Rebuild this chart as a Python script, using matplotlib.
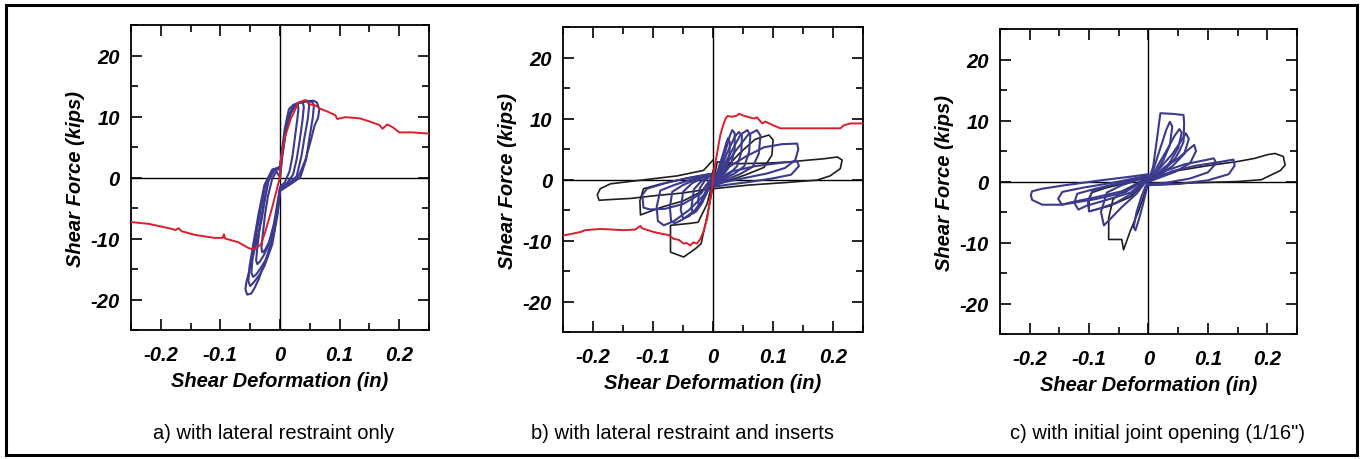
import matplotlib.pyplot as plt
from matplotlib.patches import Rectangle
from matplotlib.ticker import MultipleLocator

plt.rcParams['font.family'] = ['Liberation Sans', 'DejaVu Sans']

# ---- panel a : lateral restraint only ----
a_red_pos_x = [0, 0.001, 0.008, 0.018, 0.031, 0.0425, 0.050, 0.060, 0.067, 0.080, 0.093, 0.096,
               0.110, 0.134, 0.150, 0.167, 0.172, 0.180, 0.190, 0.200, 0.222, 0.250]
a_red_pos_y = [0, 2.5, 6.5, 9.6, 12.3, 12.7, 12.0, 11.8, 11.3, 10.8, 10.2, 9.6,
               9.9, 9.7, 9.2, 8.6, 8.0, 8.7, 8.2, 7.4, 7.4, 7.2]
a_red_neg_x = [0, -0.002, -0.008, -0.015, -0.025, -0.032, -0.040, -0.046, -0.054, -0.070, -0.092,
               -0.094, -0.096, -0.110, -0.143, -0.165, -0.170, -0.175, -0.187, -0.220, -0.250]
a_red_neg_y = [0, -0.7, -3.0, -5.6, -9.0, -11.0, -11.5, -11.8, -11.5, -10.6, -10.0,
               -9.3, -9.9, -9.9, -9.4, -8.8, -8.3, -8.6, -8.3, -7.6, -7.3]

a_loops_x = [
    [0, 0.004, 0.010, 0.018, 0.024, 0.028, 0.030, 0.031, 0.029, 0.025, 0.021, 0.016, 0.008, 0,
     -0.004, -0.010, -0.018, -0.024, -0.028, -0.030, -0.031, -0.029, -0.025, -0.020, -0.013, -0.006, 0],
    [0, 0.004, 0.011, 0.020, 0.027, 0.033, 0.038, 0.040, 0.038, 0.033, 0.028, 0.022, 0.012, 0,
     -0.004, -0.011, -0.021, -0.028, -0.034, -0.038, -0.040, -0.038, -0.033, -0.027, -0.019, -0.009, 0],
    [0, 0.004, 0.012, 0.024, 0.031, 0.038, 0.046, 0.049, 0.047, 0.041, 0.036, 0.028, 0.014, 0,
     -0.004, -0.012, -0.024, -0.032, -0.040, -0.045, -0.048, -0.046, -0.040, -0.032, -0.024, -0.012, 0],
    [0, 0.004, 0.013, 0.026, 0.033, 0.044, 0.054, 0.057, 0.055, 0.049, 0.044, 0.034, 0.016, 0,
     -0.004, -0.013, -0.026, -0.034, -0.044, -0.050, -0.053, -0.051, -0.044, -0.036, -0.026, -0.013, 0],
    [0, 0.003, 0.008, 0.015, 0.022, 0.030, 0.045, 0.056, 0.062, 0.066, 0.064, 0.058, 0.051, 0.043,
     0.037, 0.029, 0.015, 0,
     -0.003, -0.010, -0.020, -0.028, -0.035, -0.042, -0.048, -0.055, -0.058, -0.056, -0.048, -0.038,
     -0.031, -0.024, -0.020, -0.014, -0.005, 0],
]
a_loops_y = [
    [0, 3.5, 7.5, 10.5, 11.5, 11.9, 11.9, 11.2, 9.5, 6.5, 3.5, 1.0, -0.8, -1.6,
     -4.0, -7.5, -10.5, -11.7, -12.2, -12.2, -11.5, -9.5, -6.0, -3.0, -0.2, 1.0, 0],
    [0, 4.0, 8.5, 11.3, 12.0, 12.3, 12.4, 11.6, 9.5, 6.0, 3.0, 0.5, -0.9, -1.8,
     -5.0, -8.5, -11.5, -12.9, -13.8, -14.2, -13.6, -11.5, -7.5, -4.0, -0.5, 1.2, 1.4],
    [1.4, 4.5, 9.5, 11.8, 12.2, 12.4, 12.6, 11.9, 9.8, 6.5, 3.5, 0.2, -1.0, -2.0,
     -5.5, -10.0, -13.5, -14.8, -15.9, -16.3, -15.6, -13.3, -9.5, -5.0, -1.0, 1.3, 1.6],
    [1.6, 4.5, 10.0, 12.0, 12.3, 12.5, 12.4, 11.8, 9.8, 6.2, 3.0, 0.0, -1.2, -2.2,
     -6.0, -11.0, -14.5, -15.9, -17.2, -17.8, -17.0, -14.5, -10.5, -6.0, -1.2, 1.3, 1.7],
    [1.7, 4.0, 8.0, 11.2, 11.9, 12.2, 12.5, 12.6, 12.3, 11.2, 9.8, 8.5, 5.8, 3.0,
     1.5, -0.2, -1.0, -2.2,
     -5.0, -9.0, -12.6, -14.6, -16.5, -18.0, -19.0, -19.2, -18.3, -17.0, -14.0, -10.0,
     -7.0, -3.0, -0.5, 0.8, 1.5, 1.8],
]

# ---- panel b : lateral restraint and inserts ----
b_red_pos_x = [0, 0.002, 0.007, 0.012, 0.018, 0.021, 0.024, 0.032, 0.040, 0.043, 0.050, 0.057,
               0.068, 0.073, 0.082, 0.087, 0.100, 0.112, 0.140, 0.184, 0.212, 0.218, 0.229, 0.250]
b_red_pos_y = [0, 1.8, 4.5, 7.3, 9.3, 10.0, 10.4, 10.3, 10.5, 10.8, 10.5, 10.3,
               10.0, 10.2, 9.2, 9.5, 8.9, 8.4, 8.4, 8.4, 8.4, 8.9, 9.2, 9.2]
b_red_neg_x = [0, -0.002, -0.006, -0.010, -0.016, -0.021, -0.027, -0.033, -0.038, -0.044, -0.049,
               -0.057, -0.066, -0.074, -0.085, -0.099, -0.118, -0.121, -0.130, -0.149, -0.188,
               -0.213, -0.221, -0.246, -0.250]
b_red_neg_y = [0, -1.5, -4.0, -6.4, -8.5, -9.7, -10.5, -10.3, -10.8, -10.4, -10.5,
               -9.9, -9.7, -9.1, -8.9, -8.6, -8.0, -7.6, -8.2, -8.3, -8.1,
               -8.3, -8.6, -9.1, -9.2]

b_blue_x = [
    [0, 0.008, 0.016, 0.022, 0.025, 0.028, 0.027, 0.022, 0.014, 0.006, 0],
    [0, 0.010, 0.020, 0.028, 0.032, 0.036, 0.036, 0.030, 0.020, 0.008, 0],
    [0, 0.012, 0.024, 0.036, 0.043, 0.048, 0.047, 0.040, 0.028, 0.012, 0],
    [0, 0.015, 0.030, 0.046, 0.057, 0.062, 0.060, 0.052, 0.036, 0.015, 0],
    [0, 0.018, 0.036, 0.058, 0.073, 0.079, 0.076, 0.066, 0.045, 0.020, 0],
    [0, 0.025, 0.055, 0.085, 0.115, 0.140, 0.142, 0.137, 0.120, 0.090, 0.050, 0.020, 0],
    [0, 0.030, 0.070, 0.110, 0.140, 0.143, 0.130, 0.100, 0.060, 0.020, 0],
    [0, -0.006, -0.014, -0.020, -0.024, -0.025, -0.022, -0.014, -0.006, 0],
    [0, -0.008, -0.018, -0.028, -0.034, -0.036, -0.032, -0.020, -0.008, 0],
    [0, -0.010, -0.025, -0.040, -0.050, -0.054, -0.050, -0.035, -0.015, 0],
    [0, -0.012, -0.030, -0.050, -0.064, -0.070, -0.072, -0.068, -0.050, -0.025, 0],
    [0, -0.015, -0.040, -0.065, -0.082, -0.092, -0.094, -0.088, -0.065, -0.030, 0],
    [0, -0.020, -0.050, -0.080, -0.105, -0.116, -0.118, -0.110, -0.080, -0.040, 0],
]
b_blue_y = [
    [-0.5, 1.5, 4.0, 6.0, 6.8, 6.0, 4.0, 2.2, 1.0, 0.1, -0.7],
    [-0.5, 1.5, 4.5, 7.2, 8.1, 7.6, 5.0, 2.5, 1.2, 0.2, -0.8],
    [-0.5, 1.6, 4.5, 7.0, 7.8, 7.2, 4.5, 2.2, 1.0, 0.0, -0.9],
    [-0.5, 1.8, 4.5, 7.4, 8.1, 7.3, 4.5, 2.2, 1.0, 0.0, -1.0],
    [-0.5, 1.9, 4.5, 7.3, 8.1, 7.2, 4.2, 2.1, 0.9, -0.1, -1.0],
    [-0.5, 2.0, 3.8, 5.3, 5.8, 5.9, 5.0, 3.2, 1.9, 1.0, 0.2, -0.4, -1.0],
    [-0.3, 1.3, 2.2, 2.7, 3.0, 2.2, 0.8, 0.2, -0.4, -0.9, -1.2],
    [0.8, -1.2, -2.8, -3.8, -4.2, -3.5, -1.4, -0.2, 0.5, 0.9],
    [0.8, -1.5, -3.8, -5.2, -5.6, -4.5, -1.6, -0.3, 0.5, 0.9],
    [0.8, -2.0, -4.5, -6.0, -6.4, -5.0, -2.0, -0.6, 0.4, 0.9],
    [0.8, -2.5, -5.0, -6.5, -7.2, -6.8, -4.5, -2.0, -0.9, 0.2, 0.9],
    [0.8, -2.5, -5.0, -6.8, -7.5, -6.8, -4.5, -1.8, -0.9, 0.2, 0.9],
    [0.8, -2.3, -4.0, -4.8, -4.9, -4.6, -2.5, -1.5, -0.6, 0.3, 1.0],
]
b_black_x = [
    [0, 0.022, 0.045, 0.070, 0.093, 0.100, 0.098, 0.085, 0.055, 0.025, 0],
    [0, 0.007, 0.040, 0.090, 0.129, 0.160, 0.184, 0.207, 0.215, 0.212, 0.195, 0.173, 0.120, 0.060, 0],
    [0, -0.020, -0.050, -0.085, -0.121, -0.122, -0.116, -0.090, -0.050, 0],
    [0, -0.004, -0.050, -0.093, -0.138, -0.175, -0.190, -0.193, -0.188, -0.171, -0.120, -0.060,
     -0.016, 0],
    [0, -0.010, -0.025, -0.040, -0.060, -0.071, -0.071, -0.060, -0.049, -0.029, -0.020, -0.010, 0],
]
b_black_y = [
    [-0.5, 2.0, 4.4, 6.6, 7.3, 6.5, 4.0, 2.0, 0.8, -0.2, -1.0],
    [-0.5, 2.9, 2.6, 2.7, 2.9, 3.2, 3.4, 3.7, 3.2, 1.8, 0.6, -0.1, -0.5, -0.9, -1.5],
    [0.5, -2.0, -3.5, -4.5, -5.8, -3.5, -1.5, -0.8, 0.1, 1.0],
    [1.5, -1.5, -2.2, -2.6, -3.1, -3.3, -3.4, -2.5, -1.5, -0.7, -0.1, 0.6, 1.5, 3.2],
    [0, -4.0, -7.0, -7.2, -7.4, -7.5, -11.9, -12.3, -12.7, -11.3, -10.5, -6.0, -1.0],
]

# ---- panel c : initial joint opening ----
c_blue_x = [
    [0, 0.008, 0.015, 0.020, 0.040, 0.059, 0.060, 0.059, 0.052, 0.045, 0.030, 0.012, 0],
    [0, 0.010, 0.020, 0.030, 0.036, 0.040, 0.036, 0.025, 0.010, 0],
    [0, 0.015, 0.030, 0.044, 0.052, 0.056, 0.050, 0.035, 0.015, 0],
    [0, 0.020, 0.040, 0.056, 0.063, 0.068, 0.060, 0.040, 0.015, 0],
    [0, 0.025, 0.050, 0.068, 0.077, 0.080, 0.070, 0.045, 0.015, 0],
    [0, 0.030, 0.060, 0.090, 0.110, 0.114, 0.100, 0.070, 0.030, 0],
    [0, 0.040, 0.080, 0.120, 0.143, 0.145, 0.135, 0.100, 0.050, 0],
    [0, -0.020, -0.045, -0.068, -0.075, -0.080, -0.070, -0.045, -0.020, 0],
    [0, -0.025, -0.055, -0.085, -0.100, -0.102, -0.095, -0.070, -0.035, 0],
    [0, -0.030, -0.070, -0.105, -0.118, -0.125, -0.120, -0.090, -0.050, 0],
    [0, -0.040, -0.090, -0.130, -0.146, -0.152, -0.145, -0.110, -0.060, 0],
    [0, -0.040, -0.090, -0.146, -0.179, -0.196, -0.198, -0.196, -0.180, -0.140, -0.080, -0.030, 0],
    [0, -0.005, -0.010, -0.017, -0.022, -0.025, -0.020, -0.012, -0.005, 0],
]
c_blue_y = [
    [0, 2.5, 7.5, 11.2, 11.1, 10.9, 9.5, 6.5, 5.0, 3.8, 2.2, 0.8, 0],
    [0, 2.5, 5.5, 8.5, 9.8, 9.0, 6.0, 3.5, 1.0, 0],
    [0, 2.5, 5.0, 7.5, 8.6, 8.0, 5.5, 3.0, 1.0, 0],
    [0, 2.3, 4.5, 6.8, 7.9, 7.0, 4.5, 2.5, 0.8, 0],
    [0, 2.2, 3.8, 5.3, 6.0, 5.0, 3.0, 1.6, 0.5, 0],
    [0, 1.8, 2.8, 3.4, 3.8, 3.0, 1.5, 0.5, -0.2, -0.4],
    [0, 1.7, 2.6, 3.2, 3.6, 2.6, 1.2, 0.2, -0.4, -0.6],
    [0.6, -2.0, -4.2, -6.5, -7.2, -5.0, -1.8, -0.6, 0.2, 0.8],
    [0.6, -1.8, -3.5, -4.5, -4.9, -3.5, -1.6, -0.8, 0.0, 0.9],
    [0.6, -1.8, -3.0, -4.0, -4.6, -3.5, -2.0, -1.2, -0.3, 0.9],
    [0.6, -1.5, -2.6, -3.4, -3.8, -2.8, -1.7, -1.0, -0.2, 1.0],
    [0.6, -1.8, -2.9, -3.8, -3.8, -3.0, -2.2, -1.6, -1.2, -0.6, 0.2, 0.8, 1.2],
    [0, -2.0, -4.0, -6.5, -8.0, -7.5, -5.0, -2.5, -0.8, 0],
]
c_black_x = [
    [0, 0.050, 0.100, 0.151, 0.179, 0.200, 0.213, 0.227, 0.230, 0.222, 0.207, 0.190, 0.150, 0.080, 0],
    [0, -0.008, -0.017, -0.031, -0.042, -0.045, -0.067, -0.067, -0.060, -0.045, -0.025, 0],
    [0, -0.030, -0.065, -0.100, -0.100, -0.095, -0.070, -0.035, 0],
]
c_black_y = [
    [0.5, 1.8, 2.6, 3.3, 3.8, 4.4, 4.6, 4.1, 2.7, 1.8, 1.1, 0.3, 0.0, -0.2, -0.6],
    [0.6, -2.4, -4.9, -8.2, -11.2, -9.5, -9.5, -6.0, -3.0, -1.6, -0.6, 0.8],
    [0.4, -2.5, -4.0, -4.9, -2.7, -1.8, -1.0, -0.2, 0.8],
]

captions = ['a) with lateral restraint only',
            'b) with lateral restraint and inserts',
            'c) with initial joint opening (1/16")']
x_ticks = [-0.2, -0.1, 0, 0.1, 0.2]
x_tick_labels = ['-0.2', '-0.1', '0', '0.1', '0.2']
y_ticks = [-20, -10, 0, 10, 20]
y_tick_labels = ['-20', '-10', '0', '10', '20']

BLUE = '#3c3a8c'
RED = '#d91f2b'
BLACK = '#1e1e1e'
FS = 14.5

fig = plt.figure(figsize=(13.67, 4.6), dpi=100)

# axes boxes in figure fractions (left, bottom, width, height)
boxes = [(0.0958, 0.2804, 0.2180, 0.663),
         (0.4119, 0.2760, 0.2195, 0.663),
         (0.7315, 0.2717, 0.2173, 0.663)]
cap_x = [0.200, 0.499, 0.847]
cap_y = 0.058


def style_axes(ax):
    ax.set_xlim(-0.25, 0.25)
    ax.set_ylim(-25, 25)
    ax.axhline(0, color='black', lw=1.0, zorder=1)
    ax.axvline(0, color='black', lw=1.0, zorder=1)
    ax.set_xticks(x_ticks)
    ax.set_xticklabels(x_tick_labels)
    ax.set_yticks(y_ticks)
    ax.set_yticklabels(y_tick_labels)
    ax.xaxis.set_minor_locator(MultipleLocator(0.05))
    ax.yaxis.set_minor_locator(MultipleLocator(5))
    ax.tick_params(which='both', direction='in', top=True, right=True, width=1.2, color='black')
    ax.tick_params(which='major', length=8)
    ax.tick_params(which='minor', length=5)
    ax.tick_params(axis='x', which='major', pad=11)
    ax.tick_params(axis='y', which='major', pad=8)
    for lab in ax.get_xticklabels() + ax.get_yticklabels():
        lab.set_fontsize(FS)
        lab.set_fontweight('bold')
        lab.set_fontstyle('italic')
    for sp in ax.spines.values():
        sp.set_linewidth(1.3)
    ax.set_xlabel('Shear Deformation (in)', fontsize=FS, fontweight='bold',
                  fontstyle='italic', labelpad=5)
    ax.set_ylabel('Shear Force (kips)', fontsize=FS, fontweight='bold',
                  fontstyle='italic', labelpad=4)


axes = [fig.add_axes(b) for b in boxes]
for ax in axes:
    style_axes(ax)

# a) blue cycles with the red monotonic envelope on top
ax = axes[0]
for xs, ys in zip(a_loops_x, a_loops_y):
    ax.plot(xs, ys, color=BLUE, lw=1.5, zorder=2)
ax.plot(a_red_pos_x, a_red_pos_y, color=RED, lw=1.4, zorder=3)
ax.plot(a_red_neg_x, a_red_neg_y, color=RED, lw=1.4, zorder=3)

# b)
ax = axes[1]
for xs, ys in zip(b_black_x, b_black_y):
    ax.plot(xs, ys, color=BLACK, lw=1.2, zorder=2)
for xs, ys in zip(b_blue_x, b_blue_y):
    ax.plot(xs, ys, color=BLUE, lw=1.5, zorder=2)
ax.plot(b_red_pos_x, b_red_pos_y, color=RED, lw=1.4, zorder=3)
ax.plot(b_red_neg_x, b_red_neg_y, color=RED, lw=1.4, zorder=3)

# c)
ax = axes[2]
for xs, ys in zip(c_black_x, c_black_y):
    ax.plot(xs, ys, color=BLACK, lw=1.2, zorder=2)
for xs, ys in zip(c_blue_x, c_blue_y):
    ax.plot(xs, ys, color=BLUE, lw=1.5, zorder=2)

for cx, txt in zip(cap_x, captions):
    fig.text(cx, cap_y, txt, ha='center', va='center', fontsize=FS)

# frame around the whole figure
fig.patches.append(Rectangle((0.0045, 0.008), 0.9885, 0.979, transform=fig.transFigure,
                             fill=False, edgecolor='black', lw=2.2))

fig.savefig('out.png', dpi=100)
